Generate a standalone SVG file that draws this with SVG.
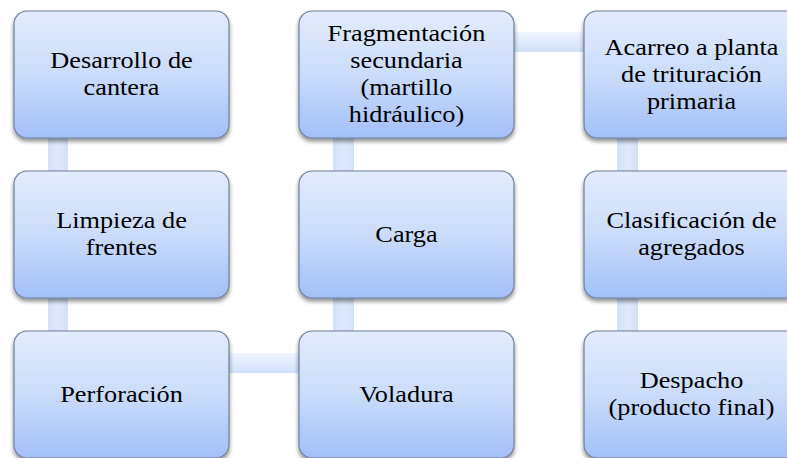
<svg xmlns="http://www.w3.org/2000/svg" width="787" height="458" viewBox="0 0 787 458">
<defs>
<linearGradient id="boxg" x1="0" y1="0" x2="0" y2="1">
<stop offset="0" stop-color="#e3ecfc"/>
<stop offset="0.5" stop-color="#cadcfa"/>
<stop offset="1" stop-color="#a2c0f7"/>
</linearGradient>
<linearGradient id="hg" x1="0" y1="0" x2="0" y2="1">
<stop offset="0" stop-color="#eff4fd"/>
<stop offset="1" stop-color="#d2e0f9"/>
</linearGradient>
<linearGradient id="vg" x1="0" y1="0" x2="1" y2="0">
<stop offset="0" stop-color="#d3e1f9"/>
<stop offset="0.5" stop-color="#dfe9fc"/>
<stop offset="1" stop-color="#d3e1f9"/>
</linearGradient>
<filter id="sh" x="-10%" y="-10%" width="120%" height="125%">
<feGaussianBlur in="SourceAlpha" stdDeviation="2"/>
<feOffset dx="0" dy="2.5" result="b"/>
<feComponentTransfer><feFuncA type="linear" slope="0.45"/></feComponentTransfer>
<feMerge><feMergeNode/><feMergeNode in="SourceGraphic"/></feMerge>
</filter>
</defs>
<style>
.box{fill:url(#boxg);stroke:#6f7e98;stroke-width:1.2;filter:url(#sh)}
.h{fill:url(#hg)}
.v{fill:url(#vg)}
</style>
<rect width="787" height="458" fill="#ffffff"/>
<g id="connectors">
<rect class="v" x="48" y="136" width="20" height="37"/>
<rect class="v" x="48" y="296" width="20" height="37"/>
<rect class="v" x="333" y="136" width="21" height="37"/>
<rect class="v" x="333" y="296" width="21" height="37"/>
<rect class="v" x="617" y="136" width="21" height="37"/>
<rect class="v" x="617" y="296" width="21" height="37"/>
<rect class="h" x="227" y="353" width="74" height="20"/>
<rect class="h" x="511" y="32" width="75" height="20"/>
</g>
<g font-family="Liberation Serif, Times New Roman, serif" font-size="23.5" fill="#000" text-anchor="middle">
<g id="n1">
<rect class="box" x="14" y="11" width="215" height="127" rx="13"/>
<g transform="translate(121.5,0) scale(1.12,1)"><text x="0" y="68">Desarrollo de</text><text x="0" y="95">cantera</text></g>
</g>
<g id="n2">
<rect class="box" x="14" y="171" width="215" height="127" rx="13"/>
<g transform="translate(121.5,0) scale(1.12,1)"><text x="0" y="228">Limpieza de</text><text x="0" y="255">frentes</text></g>
</g>
<g id="n3">
<rect class="box" x="14" y="331" width="215" height="127" rx="13"/>
<g transform="translate(121.5,0) scale(1.12,1)"><text x="0" y="402">Perforación</text></g>
</g>
<g id="n4">
<rect class="box" x="299" y="331" width="215" height="127" rx="13"/>
<g transform="translate(406.5,0) scale(1.12,1)"><text x="0" y="402">Voladura</text></g>
</g>
<g id="n5">
<rect class="box" x="299" y="171" width="215" height="127" rx="13"/>
<g transform="translate(406.5,0) scale(1.12,1)"><text x="0" y="242">Carga</text></g>
</g>
<g id="n6">
<rect class="box" x="299" y="11" width="215" height="127" rx="13"/>
<g transform="translate(406.5,0) scale(1.12,1)"><text x="0" y="41">Fragmentación</text><text x="0" y="68">secundaria</text><text x="0" y="95">(martillo</text><text x="0" y="122">hidráulico)</text></g>
</g>
<g id="n7">
<rect class="box" x="584" y="11" width="215" height="127" rx="13"/>
<g transform="translate(691.5,0) scale(1.12,1)"><text x="0" y="55">Acarreo a planta</text><text x="0" y="82">de trituración</text><text x="0" y="109">primaria</text></g>
</g>
<g id="n8">
<rect class="box" x="584" y="171" width="215" height="127" rx="13"/>
<g transform="translate(691.5,0) scale(1.12,1)"><text x="0" y="228">Clasificación de</text><text x="0" y="255">agregados</text></g>
</g>
<g id="n9">
<rect class="box" x="584" y="331" width="215" height="127" rx="13"/>
<g transform="translate(691.5,0) scale(1.12,1)"><text x="0" y="388">Despacho</text><text x="0" y="415">(producto final)</text></g>
</g>
</g>
</svg>
